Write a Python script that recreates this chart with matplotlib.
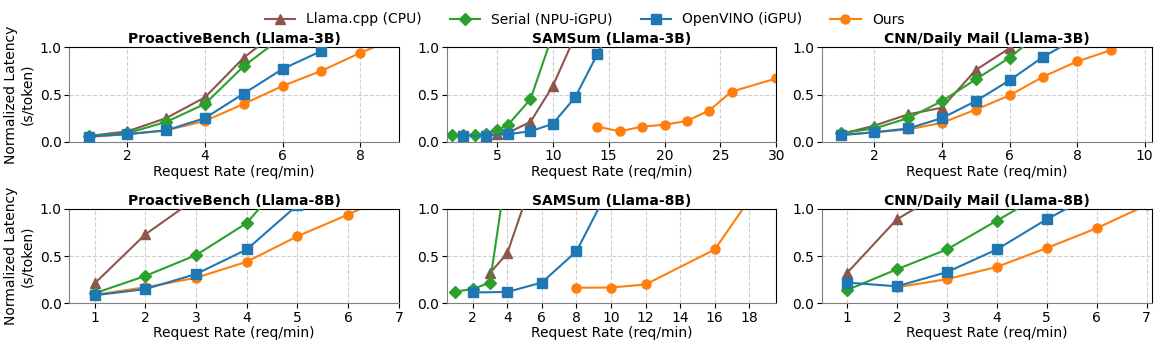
import matplotlib
matplotlib.use("Agg")
import matplotlib.pyplot as plt
from matplotlib.lines import Line2D
from matplotlib.ticker import MultipleLocator

# ---------------- data ----------------
series_names = ["Llama.cpp (CPU)", "Serial (NPU-iGPU)", "OpenVINO (iGPU)", "Ours"]
titles = ["ProactiveBench (Llama-3B)", "SAMSum (Llama-3B)", "CNN/Daily Mail (Llama-3B)",
          "ProactiveBench (Llama-8B)", "SAMSum (Llama-8B)", "CNN/Daily Mail (Llama-8B)"]

# ProactiveBench (Llama-3B)
pb3_cpp_x = [1, 2, 3, 4, 5, 6]
pb3_cpp_y = [0.06, 0.11, 0.25, 0.47, 0.89, 1.21]
pb3_ser_x = [1, 2, 3, 4, 5, 6]
pb3_ser_y = [0.06, 0.09, 0.21, 0.40, 0.80, 1.11]
pb3_ov_x = [1, 2, 3, 4, 5, 6, 7, 8]
pb3_ov_y = [0.055, 0.08, 0.12, 0.25, 0.51, 0.77, 0.96, 1.32]
pb3_ours_x = [1, 2, 3, 4, 5, 6, 7, 8, 9]
pb3_ours_y = [0.05, 0.08, 0.12, 0.22, 0.40, 0.59, 0.75, 0.94, 1.11]

# SAMSum (Llama-3B)
sam3_cpp_x = [4, 5, 6, 8, 10, 12]
sam3_cpp_y = [0.06, 0.08, 0.095, 0.21, 0.59, 1.12]
sam3_ser_x = [1, 2, 3, 4, 5, 6, 8, 10]
sam3_ser_y = [0.07, 0.07, 0.075, 0.08, 0.12, 0.18, 0.45, 1.14]
sam3_ov_x = [2, 4, 6, 8, 10, 12, 14, 16]
sam3_ov_y = [0.065, 0.065, 0.08, 0.11, 0.19, 0.47, 0.93, 1.40]
sam3_ours_x = [14, 16, 18, 20, 22, 24, 26, 30]
sam3_ours_y = [0.16, 0.11, 0.16, 0.18, 0.22, 0.33, 0.53, 0.67]

# CNN/Daily Mail (Llama-3B)
cnn3_cpp_x = [1, 2, 3, 4, 5, 6, 7]
cnn3_cpp_y = [0.08, 0.17, 0.29, 0.36, 0.76, 0.99, 1.30]
cnn3_ser_x = [1, 2, 3, 4, 5, 6, 7]
cnn3_ser_y = [0.09, 0.14, 0.25, 0.43, 0.66, 0.89, 1.18]
cnn3_ov_x = [1, 2, 3, 4, 5, 6, 7, 8]
cnn3_ov_y = [0.07, 0.10, 0.14, 0.25, 0.43, 0.65, 0.90, 1.10]
cnn3_ours_x = [1, 2, 3, 4, 5, 6, 7, 8, 9, 10]
cnn3_ours_y = [0.07, 0.10, 0.13, 0.20, 0.34, 0.49, 0.69, 0.85, 0.97, 1.18]

# ProactiveBench (Llama-8B)
pb8_cpp_x = [1, 2, 3]
pb8_cpp_y = [0.21, 0.73, 1.11]
pb8_ser_x = [1, 2, 3, 4, 5]
pb8_ser_y = [0.106, 0.29, 0.51, 0.85, 1.47]
pb8_ov_x = [1, 2, 3, 4, 5]
pb8_ov_y = [0.085, 0.15, 0.31, 0.57, 1.04]
pb8_ours_x = [1, 2, 3, 4, 5, 6, 7]
pb8_ours_y = [0.09, 0.17, 0.27, 0.44, 0.71, 0.94, 1.19]

# SAMSum (Llama-8B)
sam8_cpp_x = [3, 4, 6]
sam8_cpp_y = [0.32, 0.53, 1.60]
sam8_ser_x = [1, 2, 3, 4]
sam8_ser_y = [0.125, 0.15, 0.22, 1.46]
sam8_ov_x = [2, 4, 6, 8, 10]
sam8_ov_y = [0.115, 0.12, 0.22, 0.55, 1.26]
sam8_ours_x = [8, 10, 12, 16, 18]
sam8_ours_y = [0.165, 0.167, 0.20, 0.57, 1.10]

# CNN/Daily Mail (Llama-8B)
cnn8_cpp_x = [1, 2, 3]
cnn8_cpp_y = [0.32, 0.89, 1.20]
cnn8_ser_x = [1, 2, 3, 4, 5]
cnn8_ser_y = [0.14, 0.36, 0.57, 0.875, 1.18]
cnn8_ov_x = [1, 2, 3, 4, 5, 6]
cnn8_ov_y = [0.22, 0.18, 0.33, 0.57, 0.89, 1.17]
cnn8_ours_x = [2, 3, 4, 5, 6, 7]
cnn8_ours_y = [0.17, 0.255, 0.385, 0.585, 0.795, 1.04]

xlims = [(0.5, 9), (0.5, 30), (0.45, 10.2), (0.5, 7), (0.5, 19.55), (0.5, 7.1)]
xsteps = [2, 5, 2, 1, 2, 1]

panels = [
    [(pb3_cpp_x, pb3_cpp_y), (pb3_ser_x, pb3_ser_y), (pb3_ov_x, pb3_ov_y), (pb3_ours_x, pb3_ours_y)],
    [(sam3_cpp_x, sam3_cpp_y), (sam3_ser_x, sam3_ser_y), (sam3_ov_x, sam3_ov_y), (sam3_ours_x, sam3_ours_y)],
    [(cnn3_cpp_x, cnn3_cpp_y), (cnn3_ser_x, cnn3_ser_y), (cnn3_ov_x, cnn3_ov_y), (cnn3_ours_x, cnn3_ours_y)],
    [(pb8_cpp_x, pb8_cpp_y), (pb8_ser_x, pb8_ser_y), (pb8_ov_x, pb8_ov_y), (pb8_ours_x, pb8_ours_y)],
    [(sam8_cpp_x, sam8_cpp_y), (sam8_ser_x, sam8_ser_y), (sam8_ov_x, sam8_ov_y), (sam8_ours_x, sam8_ours_y)],
    [(cnn8_cpp_x, cnn8_cpp_y), (cnn8_ser_x, cnn8_ser_y), (cnn8_ov_x, cnn8_ov_y), (cnn8_ours_x, cnn8_ours_y)],
]

# ---------------- style ----------------
colors = ["#8c564b", "#2ca02c", "#1f77b4", "#ff7f0e"]
markers = ["^", "D", "s", "o"]
msizes = [6.5, 6, 6.5, 6.5]
zorders = [3, 4, 5, 2]
FS = 10

plt.rcParams["font.family"] = ["DejaVu Sans"]
plt.rcParams["font.size"] = FS

fig = plt.figure(figsize=(11.62, 3.49), dpi=100)

lefts = [69.3 / 1162, 446.7 / 1162, 822.0 / 1162]
width = 329.5 / 1162
bottoms = [1 - 141.7 / 349, 1 - 303.3 / 349]
height = 94.4 / 349

for i in range(6):
    r, c = divmod(i, 3)
    ax = fig.add_axes([lefts[c], bottoms[r], width, height])
    for k in range(4):
        xs, ys = panels[i][k]
        ax.plot(xs, ys, color=colors[k], marker=markers[k], markersize=msizes[k],
                linewidth=1.5, zorder=zorders[k], clip_on=True)
    ax.set_xlim(*xlims[i])
    ax.set_ylim(0, 1.0)
    ax.set_yticks([0.0, 0.5, 1.0])
    ax.xaxis.set_major_locator(MultipleLocator(xsteps[i]))
    ax.set_title(titles[i], fontsize=FS, fontweight="bold", pad=3)
    ax.set_xlabel("Request Rate (req/min)", fontsize=FS, labelpad=1)
    if c == 0:
        ax.set_ylabel("Normalized Latency\n(s/token)", fontsize=FS)
    ax.grid(True, linestyle="--", color="#d0d0d0", linewidth=0.8)
    ax.set_axisbelow(True)
    ax.tick_params(labelsize=FS, pad=2)
    for s in ["left", "bottom"]:
        ax.spines[s].set_color("#808080")
    for s in ["top", "right"]:
        ax.spines[s].set_color("black")

handles = [Line2D([0], [0], color=colors[k], marker=markers[k], markersize=msizes[k],
                  linewidth=1.5) for k in range(4)]
fig.legend(handles, series_names, loc="upper center", bbox_to_anchor=(0.503, 1.0),
           ncol=4, frameon=False, fontsize=FS, columnspacing=2.0, handlelength=2.2)

fig.savefig("out.png", dpi=100)
